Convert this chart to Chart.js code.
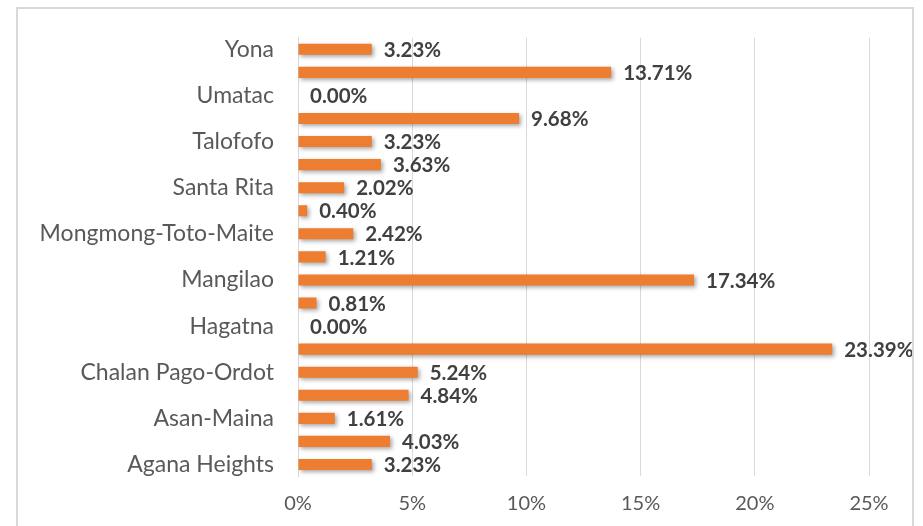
<!DOCTYPE html>
<html>
<head>
<meta charset="utf-8">
<script src="https://cdn.jsdelivr.net/npm/chart.js@4/dist/chart.umd.min.js"></script>
<style>
  html, body { margin: 0; padding: 0; background: #ffffff; }
  #wrap { position: relative; width: 923px; height: 526px; }
  #frame { position: absolute; left: 16px; top: 7px; width: 898px; height: 540px;
           border: 2px solid #d9d9d9; box-sizing: border-box; pointer-events: none; }
  canvas { position: absolute; left: 0; top: 0; }
</style>
</head>
<body>
<div id="wrap">
  <canvas id="village-chart" width="923" height="526"></canvas>
  <div id="frame"></div>
</div>
<script>
// villages, bottom to top
const villages = ['Agana Heights', 'Agat', 'Asan-Maina', 'Barrigada', 'Chalan Pago-Ordot',
  'Dededo', 'Hagatna', 'Inarajan', 'Mangilao', 'Merizo', 'Mongmong-Toto-Maite', 'Piti',
  'Santa Rita', 'Sinajana', 'Talofofo', 'Tamuning', 'Umatac', 'Yigo', 'Yona'];
const shares = [3.23, 4.03, 1.61, 4.84, 5.24, 23.39, 0.00, 0.81, 17.34, 1.21, 2.42, 0.40,
  2.02, 3.63, 3.23, 9.68, 0.00, 13.71, 3.23];
const xTicks = [0, 5, 10, 15, 20, 25];

const FONT = 'Lato';

//bar shadow
const barShadow = {
    id: 'barShadow',
    beforeDatasetsDraw: (chart) => {
        const ctx = chart.ctx;
        ctx.save();
        ctx.shadowColor = 'rgba(0,0,0,0.35)';
        ctx.shadowBlur = 4;
        ctx.shadowOffsetX = 2;
        ctx.shadowOffsetY = 2;
    },
    afterDatasetsDraw: (chart) => {
        chart.ctx.restore();
    }
}

//value labels at bar ends
const valueLabels = {
    id: 'valueLabels',
    afterDraw: (chart) => {
        const {ctx} = chart;
        const meta = chart.getDatasetMeta(0);
        ctx.save();
        ctx.font = 'bold 20.5px ' + FONT;
        ctx.fillStyle = '#404040';
        ctx.textAlign = 'left';
        ctx.textBaseline = 'middle';
        meta.data.forEach((bar, i) => {
            ctx.fillText(shares[i].toFixed(2) + '%', bar.x + 12, bar.y + 1);
        });
        ctx.restore();
    }
}

const ctx = document.getElementById('village-chart');

new Chart(ctx, {
    type: 'bar',
    data: {
        labels: villages,
        datasets: [{
            data: shares,
            backgroundColor: '#ED7D31',
            barPercentage: 0.48,
            categoryPercentage: 1.0
        }]
    },
    options: {
        indexAxis: 'y',
        responsive: false,
        animation: false,
        layout: {
            padding: { top: 34, right: 54, bottom: 13, left: 20 }
        },
        scales: {
            x: {
                min: 0,
                max: 25,
                afterBuildTicks: (axis) => {
                    axis.ticks = xTicks.map(v => ({ value: v }));
                },
                afterFit: (axis) => { axis.height = 37; },
                grid: { color: '#d9d9d9', drawTicks: false },
                border: { display: false },
                ticks: {
                    padding: 16,
                    color: '#595959',
                    font: { family: FONT, size: 20 },
                    callback: (v) => v + '%'
                }
            },
            y: {
                reverse: true,
                afterFit: (axis) => { axis.width = 278; },
                grid: { display: false, drawTicks: false },
                border: { color: '#d9d9d9', width: 1 },
                ticks: {
                    autoSkip: false,
                    padding: 24,
                    color: '#595959',
                    font: { family: FONT, size: 23 },
                    callback: function (v, i) {
                        return i % 2 === 0 ? this.getLabelForValue(v) : '';
                    }
                }
            }
        },
        plugins: {
            legend: false,
            tooltip: { enabled: false }
        }
    },
    plugins: [barShadow, valueLabels]
});
</script>
</body>
</html>
